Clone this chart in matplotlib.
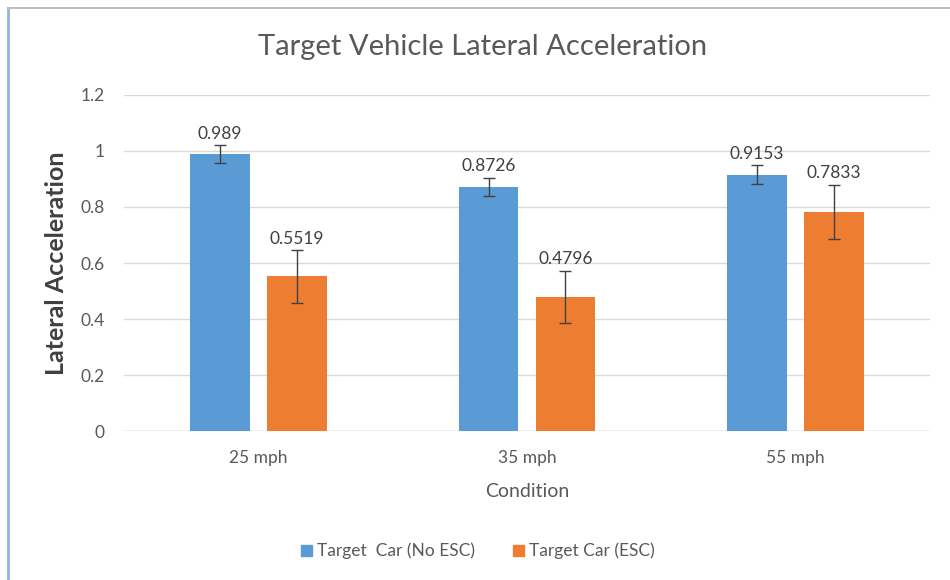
import matplotlib
matplotlib.use("Agg")
import matplotlib.pyplot as plt
import numpy as np
from matplotlib.patches import Rectangle
from matplotlib.lines import Line2D

categories = ["25 mph", "35 mph", "55 mph"]
no_esc = [0.989, 0.8726, 0.9153]
esc = [0.5519, 0.4796, 0.7833]
no_esc_err = [0.032, 0.032, 0.034]
esc_err = [0.095, 0.093, 0.097]
series_names = ["Target  Car (No ESC)", "Target Car (ESC)"]
yticks = [0, 0.2, 0.4, 0.6, 0.8, 1.0, 1.2]
ytick_labels = ["0", "0.2", "0.4", "0.6", "0.8", "1", "1.2"]

plt.rcParams['font.family'] = ['Lato', 'DejaVu Sans']
blue = "#5B9BD5"
orange = "#ED7D31"
txt = "#595959"

fig = plt.figure(figsize=(9.5, 5.8), dpi=100)
fig.patch.set_facecolor("white")
# chart frame
fig.add_artist(Line2D([8/950, 8/950], [0, 1 - 8/580], color="#8DB4E2", lw=2, transform=fig.transFigure))
fig.add_artist(Line2D([8/950, 1], [1 - 8/580, 1 - 8/580], color="#BFBFBF", lw=1.5, transform=fig.transFigure))

ax = fig.add_axes([124/950, 1 - 431/580, (930 - 124)/950, (431 - 95)/580])
x = np.arange(len(categories))
w = 0.222
off = 0.143
ax.bar(x - off, no_esc, w, color=blue, zorder=2, label=series_names[0])
ax.bar(x + off, esc, w, color=orange, zorder=2, label=series_names[1])
ax.errorbar(x - off, no_esc, yerr=no_esc_err, fmt="none", ecolor="#404040", elinewidth=1, capsize=4, zorder=3)
ax.errorbar(x + off, esc, yerr=esc_err, fmt="none", ecolor="#404040", elinewidth=1, capsize=4, zorder=3)

for xi, v, e in zip(x - off, no_esc, no_esc_err):
    ax.text(xi, v + e + 0.012, f"{v:g}", ha="center", va="bottom", fontsize=12.5, color="#404040")
for xi, v, e in zip(x + off, esc, esc_err):
    ax.text(xi, v + e + 0.012, f"{v:g}", ha="center", va="bottom", fontsize=12.5, color="#404040")

ax.set_xlim(-0.5, 2.5)
ax.set_ylim(0, 1.2)
ax.set_yticks(yticks)
ax.set_yticklabels(ytick_labels)
ax.set_xticks(x)
ax.set_xticklabels(categories)
ax.tick_params(axis="both", length=0, labelsize=12.5, labelcolor=txt)
ax.tick_params(axis="y", pad=14)
ax.tick_params(axis="x", pad=14)
ax.grid(axis="y", color="#D9D9D9", lw=1, zorder=0)
for s in ax.spines.values():
    s.set_visible(False)
ax.axhline(0, color="#D9D9D9", lw=1, zorder=1)

ax.set_xlabel("Condition", fontsize=14, color=txt, labelpad=12)
fig.text(57/950, 1 - 263/580, "Lateral Acceleration", rotation=90, ha="center", va="center",
         fontsize=18, fontweight="bold", color="#404040")
fig.text(483/950, 1 - 47/580, "Target Vehicle Lateral Acceleration", ha="center", va="center",
         fontsize=21, color=txt)

handles = [Rectangle((0, 0), 1, 1, color=blue), Rectangle((0, 0), 1, 1, color=orange)]
fig.legend(handles, series_names, loc="center", bbox_to_anchor=(478/950, 1 - 551/580), ncol=2,
           frameon=False, fontsize=12.5, labelcolor=txt, handlelength=0.6, handleheight=0.6,
           handletextpad=0.3, columnspacing=2.2)

fig.savefig("out.png", dpi=100, facecolor="white")
